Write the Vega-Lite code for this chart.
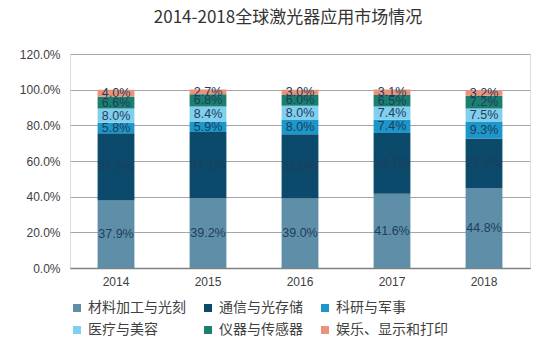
{
  "$schema": "https://vega.github.io/schema/vega-lite/v6.json",
  "autosize": {"type": "none"},
  "width": 460,
  "height": 214,
  "padding": {"left": 70, "top": 54, "right": 20, "bottom": 92},
  "background": "white",
  "title": {
    "text": "2014-2018全球激光器应用市场情况",
    "font": "Noto Sans CJK SC",
    "fontSize": 17,
    "fontWeight": "normal",
    "color": "#333333",
    "anchor": "middle",
    "offset": 21,
    "dx": -12
  },
  "data": {
    "values": [
      {"year": "2014", "cat": "材料加工与光刻", "o": 1, "share": 0.379},
      {"year": "2014", "cat": "通信与光存储", "o": 2, "share": 0.377},
      {"year": "2014", "cat": "科研与军事", "o": 3, "share": 0.058},
      {"year": "2014", "cat": "医疗与美容", "o": 4, "share": 0.080},
      {"year": "2014", "cat": "仪器与传感器", "o": 5, "share": 0.066},
      {"year": "2014", "cat": "娱乐、显示和打印", "o": 6, "share": 0.040},
      {"year": "2015", "cat": "材料加工与光刻", "o": 1, "share": 0.392},
      {"year": "2015", "cat": "通信与光存储", "o": 2, "share": 0.371},
      {"year": "2015", "cat": "科研与军事", "o": 3, "share": 0.059},
      {"year": "2015", "cat": "医疗与美容", "o": 4, "share": 0.084},
      {"year": "2015", "cat": "仪器与传感器", "o": 5, "share": 0.068},
      {"year": "2015", "cat": "娱乐、显示和打印", "o": 6, "share": 0.027},
      {"year": "2016", "cat": "材料加工与光刻", "o": 1, "share": 0.390},
      {"year": "2016", "cat": "通信与光存储", "o": 2, "share": 0.360},
      {"year": "2016", "cat": "科研与军事", "o": 3, "share": 0.080},
      {"year": "2016", "cat": "医疗与美容", "o": 4, "share": 0.080},
      {"year": "2016", "cat": "仪器与传感器", "o": 5, "share": 0.060},
      {"year": "2016", "cat": "娱乐、显示和打印", "o": 6, "share": 0.030},
      {"year": "2017", "cat": "材料加工与光刻", "o": 1, "share": 0.416},
      {"year": "2017", "cat": "通信与光存储", "o": 2, "share": 0.341},
      {"year": "2017", "cat": "科研与军事", "o": 3, "share": 0.074},
      {"year": "2017", "cat": "医疗与美容", "o": 4, "share": 0.074},
      {"year": "2017", "cat": "仪器与传感器", "o": 5, "share": 0.065},
      {"year": "2017", "cat": "娱乐、显示和打印", "o": 6, "share": 0.031},
      {"year": "2018", "cat": "材料加工与光刻", "o": 1, "share": 0.448},
      {"year": "2018", "cat": "通信与光存储", "o": 2, "share": 0.278},
      {"year": "2018", "cat": "科研与军事", "o": 3, "share": 0.093},
      {"year": "2018", "cat": "医疗与美容", "o": 4, "share": 0.075},
      {"year": "2018", "cat": "仪器与传感器", "o": 5, "share": 0.072},
      {"year": "2018", "cat": "娱乐、显示和打印", "o": 6, "share": 0.032}
    ]
  },
  "encoding": {
    "x": {
      "field": "year",
      "type": "nominal",
      "title": null,
      "scale": {"paddingInner": 0.6, "paddingOuter": 0.3},
      "axis": {
        "labelAngle": 0,
        "labelFont": "Liberation Sans",
        "labelFontSize": 12,
        "labelColor": "#404040",
        "labelPadding": 8,
        "ticks": false,
        "domainColor": "#808080",
        "domainWidth": 1.5
      }
    },
    "y": {
      "field": "share",
      "type": "quantitative",
      "stack": "zero",
      "title": null,
      "scale": {"domain": [0, 1.2], "nice": false},
      "axis": {
        "values": [0, 0.2, 0.4, 0.6, 0.8, 1.0, 1.2],
        "format": ".1%",
        "labelOverlap": false,
        "labelFont": "Liberation Sans",
        "labelFontSize": 12,
        "labelColor": "#404040",
        "labelPadding": 10,
        "ticks": false,
        "domain": false,
        "gridColor": "#a6a6a6",
        "gridWidth": 1
      }
    },
    "order": {"field": "o", "type": "quantitative"}
  },
  "layer": [
    {
      "mark": {"type": "bar"},
      "encoding": {
        "color": {
          "field": "cat",
          "type": "nominal",
          "scale": {
            "domain": ["材料加工与光刻", "通信与光存储", "科研与军事", "医疗与美容", "仪器与传感器", "娱乐、显示和打印"],
            "range": ["#5f8fa8", "#0b4a6a", "#1b97c9", "#80cfee", "#1a7f6e", "#e8937a"]
          },
          "legend": {
            "title": null,
            "orient": "bottom",
            "direction": "horizontal",
            "columns": 3,
            "symbolType": "square",
            "symbolSize": 64,
            "symbolStrokeWidth": 0,
            "labelFont": "Noto Sans CJK SC",
            "labelFontSize": 14,
            "labelColor": "#404040",
            "columnPadding": 15,
            "rowPadding": 8,
            "offset": 14
          }
        }
      }
    },
    {
      "mark": {"type": "text", "font": "Liberation Sans", "fontSize": 12.5, "color": "#1f3d5c", "baseline": "middle"},
      "encoding": {
        "y": {"field": "share", "type": "quantitative", "stack": "zero", "bandPosition": 0.5},
        "detail": {"field": "cat"},
        "text": {"field": "share", "type": "quantitative", "format": ".1%"}
      }
    }
  ]
}
